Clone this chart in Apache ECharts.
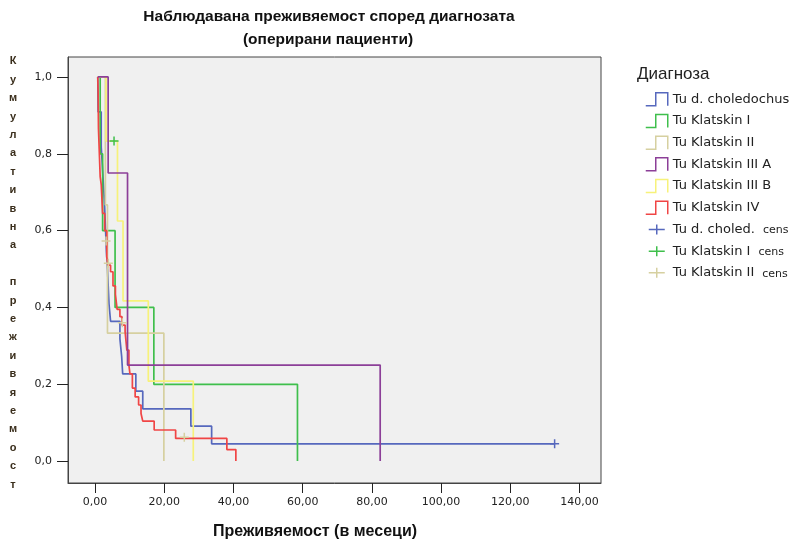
<!DOCTYPE html>
<html>
<head>
<meta charset="utf-8">
<script src="https://cdn.jsdelivr.net/npm/echarts@6/dist/echarts.min.js"></script>
<style>
html,body{margin:0;padding:0;background:#ffffff;}
#chart{width:795px;height:543px;}
</style>
</head>
<body>
<div id="chart"></div>
<script>
// ---- Data (time in months, cumulative survival) ----
const chTimes   = [0.8, 0.9, 1.8, 2.1, 2.4, 2.7, 2.9, 3.1, 3.3, 3.6, 4.05, 4.5, 7.2, 7.7, 8.0, 11.8, 13.8, 27.7, 33.7, 132.8];
const chSurv    = [1.0, 0.909, 0.818, 0.773, 0.727, 0.682, 0.636, 0.591, 0.545, 0.5, 0.409, 0.364, 0.318, 0.273, 0.227, 0.182, 0.136, 0.091, 0.045, 0.045];
const k1Times   = [0.8, 1.5, 2.2, 5.8, 17.0, 58.5];
const k1Surv    = [1.0, 0.8, 0.6, 0.4, 0.2, 0.0];
const k2Times   = [0.8, 3.0, 3.6, 19.9];
const k2Surv    = [1.0, 0.667, 0.333, 0.0];
const k3aTimes  = [0.8, 3.8, 9.4, 82.4];
const k3aSurv   = [1.0, 0.75, 0.25, 0.0];
const k3bTimes  = [0.8, 3.2, 6.5, 8.1, 15.4, 28.4];
const k3bSurv   = [1.0, 0.833, 0.625, 0.417, 0.208, 0.0];
const k4Times   = [0.8, 0.9, 1.0, 1.5, 1.8, 2.2, 2.8, 3.4, 3.75, 4.5, 5.2, 5.9, 6.4, 7.2, 7.8, 8.7, 9.2, 9.8, 10.1, 10.8, 11.6, 12.6, 13.3, 13.8, 17.1, 23.3, 38.1, 40.7];
const k4Surv    = [1.0, 0.962, 0.866, 0.74, 0.72, 0.645, 0.60, 0.532, 0.51, 0.493, 0.456, 0.434, 0.395, 0.376, 0.354, 0.337, 0.289, 0.25, 0.227, 0.19, 0.167, 0.146, 0.124, 0.104, 0.081, 0.059, 0.03, 0.0];
// censored observations
const chCensT   = [132.8];
const chCensS   = [0.045];
const k1CensT   = [5.5];
const k1CensS   = [0.833];
const k2CensT   = [3.2, 3.85, 7.9, 25.8];
const k2CensS   = [0.573, 0.515, 0.36, 0.062];
// ticks
const xTicks = [0, 20, 40, 60, 80, 100, 120, 140];
const yTicks = [0, 0.2, 0.4, 0.6, 0.8, 1.0];
const seriesNames = ['Tu d. choledochus','Tu Klatskin I','Tu Klatskin II','Tu Klatskin III A','Tu Klatskin III B','Tu Klatskin IV'];
const censNames = ['Tu d. choled. cens','Tu Klatskin I cens','Tu Klatskin II cens'];

const colors = ['#5668bd','#3fbf4c','#d6d0a0','#8c3f98','#f7f27a','#f04545'];
const censColors = ['#5668bd','#3fbf4c','#d6d0a0'];

const zip = (t, s) => t.map((v, i) => [v, s[i]]);
const lineData = [zip(chTimes, chSurv), zip(k1Times, k1Surv), zip(k2Times, k2Surv), zip(k3aTimes, k3aSurv), zip(k3bTimes, k3bSurv), zip(k4Times, k4Surv)];
const censData = [zip(chCensT, chCensS), zip(k1CensT, k1CensS), zip(k2CensT, k2CensS)];

const FONT = 'DejaVu Sans';
const stepIcon = 'path://M0,13 L10,13 L10,0 L22,0 L22,13';
const crossIcon = 'path://M0,0 M22,13 M3,6.5 L19,6.5 M11,1.5 L11,11.5';
const crossSym = 'path://M0,5 L10,5 M5,0 L5,10';

const series = [];
seriesNames.forEach((n, i) => {
  series.push({
    name: n, type: 'line', step: 'end', data: lineData[i],
    showSymbol: false, symbol: 'none', silent: true,
    lineStyle: {color: colors[i], width: 1.7}, itemStyle: {color: colors[i]},
    z: i === 3 ? 3 : 2
  });
});
censNames.forEach((n, i) => {
  series.push({
    name: n, type: 'scatter', data: censData[i], symbol: crossSym, symbolSize: 9,
    itemStyle: {color: 'transparent', borderColor: censColors[i], borderWidth: 1.5, opacity: 1},
    z: 5
  });
});

const legendData = seriesNames.map((n, i) => ({
  name: n, icon: stepIcon,
  itemStyle: {color: 'transparent', borderColor: colors[i], borderWidth: 1.5}
})).concat(censNames.map((n, i) => ({
  name: n, icon: crossIcon,
  itemStyle: {color: 'transparent', borderColor: censColors[i], borderWidth: 1.5}
})));

const yLetters = 'Кумулативна преживяемост'.split('').join('\n');

const chart = echarts.init(document.getElementById('chart'), null, {renderer: 'canvas'});
chart.setOption({
  animation: false,
  backgroundColor: '#ffffff',
  grid: {left: 68, top: 57, width: 533, height: 426, show: true, backgroundColor: '#f0f0f0', borderColor: '#444', borderWidth: 1},
  xAxis: {
    type: 'value', min: -7.8, max: 146.2,
    axisLine: {show: true, onZero: false, lineStyle: {color: '#444', width: 1}},
    axisTick: {show: true, inside: false, length: 10, customValues: xTicks, lineStyle: {color: '#222', width: 1}},
    axisLabel: {customValues: xTicks, margin: 14, color: '#222', fontFamily: FONT, fontSize: 11,
      formatter: v => v.toFixed(2).replace('.', ',')},
    splitLine: {show: false}
  },
  yAxis: {
    type: 'value', min: -0.057, max: 1.052,
    axisLine: {show: true, onZero: false, lineStyle: {color: '#444', width: 1}},
    axisTick: {show: true, inside: false, length: 11, customValues: yTicks, lineStyle: {color: '#222', width: 1}},
    axisLabel: {customValues: yTicks, margin: 16, color: '#222', fontFamily: FONT, fontSize: 11,
      formatter: v => v.toFixed(1).replace('.', ',')},
    splitLine: {show: false}
  },
  legend: {
    orient: 'vertical', left: 640, top: 87, itemWidth: 22, itemHeight: 13, itemGap: 7.2, padding: 5,
    symbolKeepAspect: false, selectedMode: false,
    data: legendData,
    textStyle: {fontFamily: FONT, fontSize: 13, color: '#222',
      rich: {a: {fontFamily: FONT, fontSize: 13, color: '#222'}, c: {fontFamily: FONT, fontSize: 11, color: '#222', padding: [2, 0, 0, 8]}}},
    formatter: name => name.endsWith(' cens') ? '{a|' + name.slice(0, -5) + '}{c|cens}' : name
  },
  graphic: [
    {type: 'text', x: 329, y: 9, style: {text: 'Наблюдавана преживяемост според диагнозата', font: 'bold 15.5px "Liberation Sans"', fill: '#111', align: 'center'}},
    {type: 'text', x: 328, y: 32, style: {text: '(оперирани пациенти)', font: 'bold 15.5px "Liberation Sans"', fill: '#111', align: 'center'}},
    {type: 'text', left: 637, top: 66, style: {text: 'Диагноза', font: '17px "Liberation Sans"', fill: '#222'}},
    {type: 'text', x: 315, y: 524, style: {text: 'Преживяемост (в месеци)', font: 'bold 16px "Liberation Sans"', fill: '#111', align: 'center'}},
    {type: 'text', x: 13, y: 273, style: {text: yLetters, font: 'bold 11px "Liberation Sans"', fill: '#3a2e1c', align: 'center', verticalAlign: 'middle', lineHeight: 18.4}}
  ],
  series: series
});
</script>
</body>
</html>
